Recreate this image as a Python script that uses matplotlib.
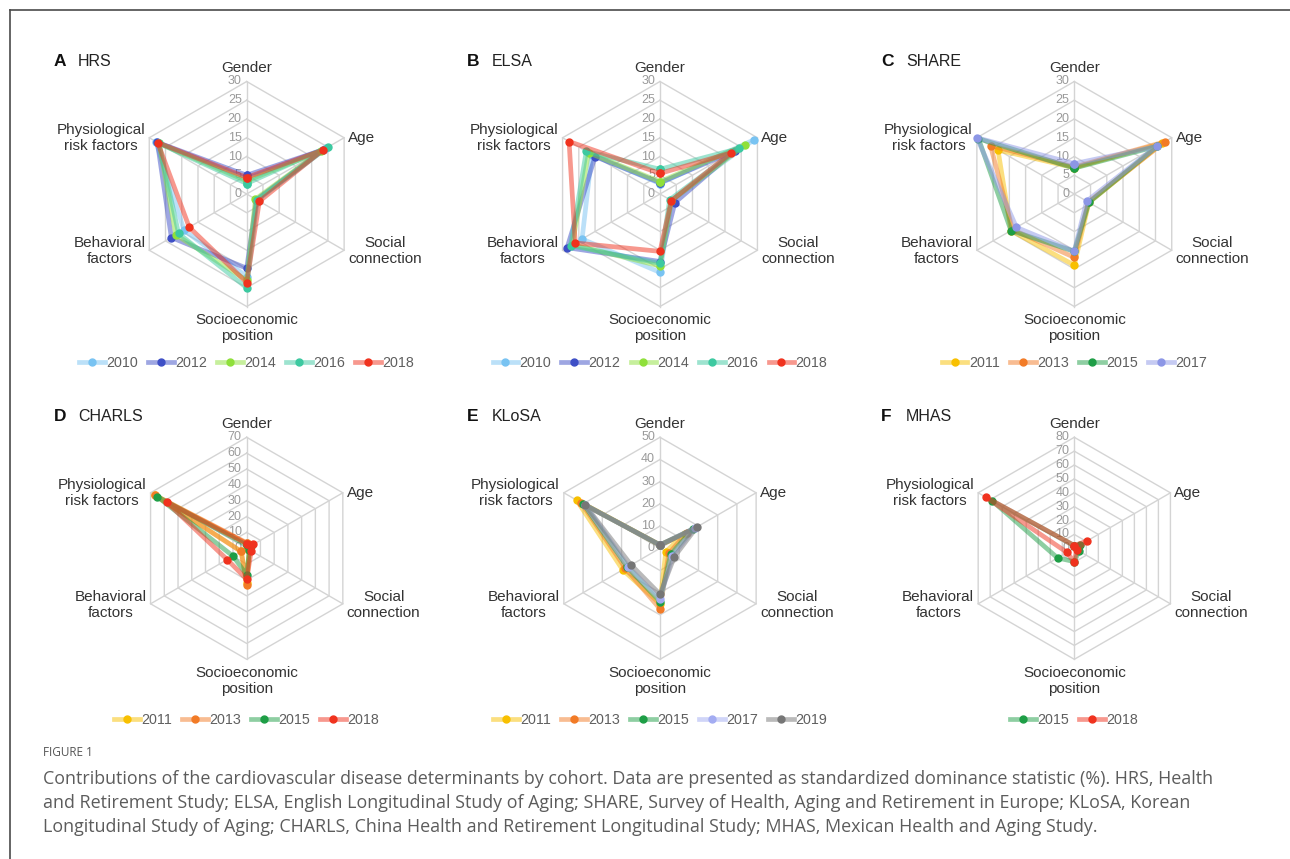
import numpy as np
import matplotlib
matplotlib.use("Agg")
import matplotlib.pyplot as plt
from matplotlib.lines import Line2D
from matplotlib.transforms import offset_copy

plt.rcParams['font.family'] = ['Liberation Sans', 'DejaVu Sans']

W, H = 1290, 859

categories = ["Gender", "Age", "Social\nconnection", "Socioeconomic\nposition",
              "Behavioral\nfactors", "Physiological\nrisk factors"]

# values per year: Gender, Age, Social, Socioeconomic, Behavioral, Physiological
hrs_years = ["2010", "2012", "2014", "2016", "2018"]
hrs_values = [
    [4.0, 24.5, 3.0, 22.0, 19.3, 28.0],
    [5.0, 23.5, 3.0, 19.8, 23.2, 27.5],
    [3.5, 23.0, 2.7, 23.0, 21.8, 27.0],
    [2.8, 25.0, 3.2, 25.0, 21.0, 27.0],
    [4.4, 23.4, 3.9, 23.6, 17.7, 27.4],
]
elsa_years = ["2010", "2012", "2014", "2016", "2018"]
elsa_values = [
    [2.8, 28.8, 3.5, 20.9, 24.0, 21.0],
    [3.0, 23.0, 4.6, 18.0, 28.6, 20.0],
    [3.3, 26.3, 3.5, 19.2, 27.0, 22.0],
    [6.6, 24.3, 3.0, 18.5, 27.5, 22.7],
    [5.5, 22.0, 3.5, 15.3, 26.1, 28.0],
]
share_years = ["2011", "2013", "2015", "2017"]
share_values = [
    [7.0, 27.0, 4.5, 19.0, 19.5, 23.5],
    [7.2, 27.8, 4.3, 16.9, 19.0, 25.8],
    [6.9, 25.5, 4.5, 15.3, 19.5, 29.5],
    [8.1, 25.4, 3.8, 15.3, 17.8, 30.0],
]
charls_years = ["2011", "2013", "2015", "2018"]
charls_values = [
    [3.0, 3.0, 2.0, 22.0, 4.0, 67.0],
    [3.5, 3.0, 2.0, 23.0, 4.0, 67.0],
    [2.0, 3.0, 2.0, 16.8, 9.9, 65.0],
    [3.0, 4.9, 3.3, 19.5, 14.2, 58.4],
]
klosa_years = ["2011", "2013", "2015", "2017", "2019"]
klosa_values = [
    [1.5, 13.0, 3.0, 25.0, 19.4, 43.4],
    [1.5, 14.0, 4.6, 27.3, 18.0, 41.0],
    [1.5, 17.0, 5.5, 24.0, 17.0, 39.8],
    [1.5, 18.0, 6.5, 23.0, 16.5, 39.0],
    [1.5, 19.2, 7.5, 20.7, 15.0, 39.0],
]
mhas_years = ["2015", "2018"]
mhas_values = [
    [2.0, 5.0, 4.0, 9.6, 13.9, 68.3],
    [2.0, 10.5, 2.0, 10.0, 6.0, 73.7],
]

year_colors = {
    "2010": "#78c3f2", "2012": "#3e4fc6", "2014": "#8fe03a", "2016": "#3cc9a0",
    "2018": "#f0321e", "2011": "#f8c000", "2013": "#f27b26", "2015": "#1e9e46",
    "2017": "#8c96e6", "2019": "#767676",
}
klosa_colors = dict(year_colors, **{"2017": "#a3acf2"})

panels = [
    ("A", "HRS", hrs_years, hrs_values, np.arange(0, 31, 5), 246.7, 194.0, 112.5, 363, year_colors),
    ("B", "ELSA", elsa_years, elsa_values, np.arange(0, 31, 5), 660.0, 194.0, 112.5, 363, year_colors),
    ("C", "SHARE", share_years, share_values, np.arange(0, 31, 5), 1074.3, 194.0, 112.5, 363, year_colors),
    ("D", "CHARLS", charls_years, charls_values, np.arange(0, 71, 10), 246.7, 548.3, 111.0, 720.5, year_colors),
    ("E", "KLoSA", klosa_years, klosa_values, np.arange(0, 51, 10), 660.0, 548.3, 111.0, 720.5, klosa_colors),
    ("F", "MHAS", mhas_years, mhas_values, np.arange(0, 81, 10), 1074.3, 548.3, 111.0, 720.5, year_colors),
]

label_cfg = [
    (0, 6, "center", "bottom"),
    (4, 0, "left", "center"),
    (4, -1, "left", "center"),
    (0, -7, "center", "top"),
    (-4, -1, "right", "center"),
    (-4, 0, "right", "center"),
]

fig = plt.figure(figsize=(W / 100, H / 100), dpi=100)
angles = np.arange(6) * np.pi / 3
closed = np.append(angles, angles[0])
grid_c = "#d4d4d4"

for letter, name, years, values, ticks, cx, cy, rad, ly, colors in panels:
    ax = fig.add_axes([(cx - rad) / W, 1 - (cy + rad) / H, 2 * rad / W, 2 * rad / H],
                      projection="polar")
    ax.set_theta_offset(np.pi / 2)
    ax.set_theta_direction(-1)
    rmax = ticks[-1]
    ax.set_ylim(0, rmax)
    ax.grid(False)
    ax.set_xticks([])
    ax.set_yticks([])
    ax.spines["polar"].set_visible(False)
    ax.patch.set_alpha(0)

    for r in ticks[1:]:
        ax.plot(closed, [r] * 7, color=grid_c, lw=1.0, zorder=1, clip_on=False)
    for a in angles:
        ax.plot([a, a], [0, rmax], color=grid_c, lw=1.0, zorder=1, clip_on=False)

    tick_tr = offset_copy(ax.transData, fig=fig, x=-5, y=0, units="dots")
    for r in ticks:
        ax.text(0, r, str(r), transform=tick_tr, ha="right", va="center",
                fontsize=9, color="#9a9a9a", zorder=2)

    handles = []
    for yr, vals in zip(years, values):
        c = matplotlib.colors.to_rgb(colors[yr])
        v = np.append(vals, vals[0])
        ln, = ax.plot(closed, v, color=c + (0.5,), lw=3.4, marker="o", ms=5,
                      markerfacecolor=c, markeredgecolor=c, zorder=3, clip_on=False)
        handles.append(ln)

    for a, lab, (dx, dy, ha, va) in zip(angles, categories, label_cfg):
        tr = offset_copy(ax.transData, fig=fig, x=dx, y=dy, units="dots")
        ax.text(a, rmax, lab, transform=tr, ha=ha, va=va, multialignment="center",
                fontsize=11, color="#333333", linespacing=1.15)

    ty = 1 - (cy - 132) / H
    fig.text((cx - 193) / W, ty, letter, fontsize=12.5, fontweight="bold",
             color="#111111", va="center", ha="left")
    fig.text((cx - 168.5) / W, ty, name, fontsize=11.5, color="#222222",
             va="center", ha="left")

    ax.legend(handles, years, loc="center", bbox_to_anchor=(cx / W, 1 - ly / H),
              bbox_transform=fig.transFigure, ncol=len(years), frameon=False,
              fontsize=10.3, handlelength=1.8, handletextpad=0.1, columnspacing=0.7,
              labelcolor="#5f5f5f", borderpad=0, borderaxespad=0)

# page frame
fig.add_artist(Line2D([9.5 / W, 1], [1 - 10 / H, 1 - 10 / H], color="#4a4a4a", lw=1.2))
fig.add_artist(Line2D([9.5 / W, 9.5 / W], [0, 1 - 10 / H], color="#4a4a4a", lw=1.2))

fig.text(43 / W, 1 - 752 / H, "FIGURE 1", fontsize=8.5, color="#555555",
         family=["Open Sans", "DejaVu Sans"], va="center", ha="left")
caption = [
    "Contributions of the cardiovascular disease determinants by cohort. Data are presented as standardized dominance statistic (%). HRS, Health",
    "and Retirement Study; ELSA, English Longitudinal Study of Aging; SHARE, Survey of Health, Aging and Retirement in Europe; KLoSA, Korean",
    "Longitudinal Study of Aging; CHARLS, China Health and Retirement Longitudinal Study; MHAS, Mexican Health and Aging Study.",
]
for i, line in enumerate(caption):
    fig.text(43 / W, 1 - (779 + 24 * i) / H, line, fontsize=12.9, color="#5c5c5c",
             family=["Open Sans", "DejaVu Sans"], va="center", ha="left")

fig.savefig("out.png", dpi=100)
